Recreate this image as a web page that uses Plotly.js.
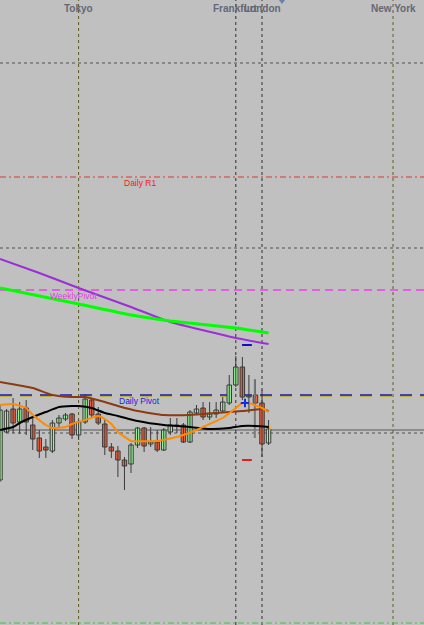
<!DOCTYPE html>
<html><head><meta charset="utf-8">
<script src="https://cdn.plot.ly/plotly-3.0.1.min.js"></script>
<style>html,body{margin:0;padding:0;background:#c0c0c0;overflow:hidden}#chart{width:424px;height:625px}</style>
</head><body><div id="chart"></div>
<script>
// ---- data (price units) ----
const barIndex = [0,1,2,3,4,5,6,7,8,9,10,11,12,13,14,15,16,17,18,19,20,21,22,23,24,25,26,27,28,29,30,31,32,33,34,35,36,37,38,39,40,41];
const openP  = [145,193,216,203,217,200,187,178,174,202,206,211,190,203,225,211,201,178,174,165,161,180,197,181,183,175,193,199,200,183,212,217,208,211,214,222,240,258,228,230,222,182];
const highP  = [220,216,227,223,225,208,195,186,205,210,212,212,205,231,227,218,205,182,179,168,182,198,198,198,195,197,207,207,202,215,220,223,223,223,228,250,269,268,250,245,235,205];
const lowP   = [143,192,192,191,190,175,167,167,172,198,204,186,185,201,207,200,170,167,148,135,152,177,173,178,173,174,190,192,182,182,210,205,205,207,212,220,238,225,212,220,168,180];
const closeP = [215,214,202,216,203,186,174,175,202,207,210,190,203,226,210,202,178,174,165,159,180,197,179,183,175,195,200,200,183,213,216,208,211,215,223,240,258,228,229,222,181,196];

const purpleX = [0,6,12,20,26,36,41];
const purpleY = [366,352,337,318,303,287,281];
const limeX   = [0,12,20,26,36,41];
const limeY   = [337,321,310,304,297,292];
const brownX  = [0,5,8,11,13,16,18,21,25,29,33,37,40,41];
const brownY  = [243,237,230,228,228,223,219,214,210,210,212,214,216,214];
const blackX  = [0,2,3,5,7,9,11,12,14,16,18,21,25,29,32,35,37,39,41];
const blackY  = [195,198,202,208,213,218,219,219,217,212,209,204,200,198,196,197,199,199,198];
const orangeX = [0,2,4,5,7,8,10,11,13,15,16,17,18,20,24,27,30,32,34,36,37,38,40,41];
const orangeY = [220,221,217,210,200,197,198,201,205,209,206,201,193,184,184,188,195,201,207,217,222,222,217,213];

const levelNames  = ['Daily R1','WeeklyPivot','Daily Pivot'];
const levelValues = [448, 335, 230];
const levelLabelBar = [18.6, 7.3, 17.9];
const lowerLevel = 2;
const bidLevel = 195;
const gridLevels = [562, 377, 192];

const sessionNames = ['Tokyo','Frankfurt','London','New York'];
const sessionBars  = [12, 36, 40, 60];

const markHighX = [37.7], markHighY = [280];
const markLowX  = [37.7], markLowY  = [165];
const crossX = [37.4], crossY = [222];
const tickBarX = [38.9, 38.9], tickBarY = [246, 187];
const smallTickX = [41.2, 41.2], smallTickY = [199, 195];
const topArrowX = [43.05], topArrowY = [626];

// ---- derived candle geometry ----
const wickX = [], wickY = [];
barIndex.forEach((b,i) => { wickX.push(b,b,null); wickY.push(highP[i],lowP[i],null); });
const bodyBase = openP.map((o,i) => Math.min(o, closeP[i]));
const bodySize = openP.map((o,i) => Math.max(Math.abs(closeP[i]-o), 0.8));
const bodyColor = openP.map((o,i) => closeP[i] >= o ? '#98f098' : '#f0623e');

// ---- traces ----
const traces = [
  {type:'scatter', mode:'lines', x:wickX, y:wickY, line:{color:'#3a3a3a',width:1}, connectgaps:false, hoverinfo:'skip'},
  {type:'bar', x:barIndex, y:bodySize, base:bodyBase, width:0.68,
   marker:{color:bodyColor, line:{color:'#3a3a3a',width:1}}, hoverinfo:'skip'},
  {type:'scatter', mode:'lines', x:tickBarX, y:tickBarY, line:{color:'#7a7a7a',width:2}, hoverinfo:'skip'},
  {type:'scatter', mode:'lines', x:purpleX, y:purpleY, line:{color:'#9a2fd6',width:2,shape:'spline',smoothing:0.4}, hoverinfo:'skip'},
  {type:'scatter', mode:'lines', x:limeX, y:limeY, line:{color:'#00ff00',width:3,shape:'spline',smoothing:0.4}, hoverinfo:'skip'},
  {type:'scatter', mode:'lines', x:brownX, y:brownY, line:{color:'#8b3a12',width:2,shape:'spline',smoothing:0.4}, hoverinfo:'skip'},
  {type:'scatter', mode:'lines', x:blackX, y:blackY, line:{color:'#000000',width:2,shape:'spline',smoothing:0.4}, hoverinfo:'skip'},
  {type:'scatter', mode:'lines', x:orangeX, y:orangeY, line:{color:'#ff8c00',width:2,shape:'spline',smoothing:0.3}, hoverinfo:'skip'},
  {type:'scatter', mode:'markers', x:markHighX, y:markHighY, marker:{symbol:'line-ew',size:7,line:{color:'#1010c8',width:2}}, hoverinfo:'skip'},
  {type:'scatter', mode:'markers', x:markLowX, y:markLowY, marker:{symbol:'line-ew',size:7,line:{color:'#e02020',width:2}}, hoverinfo:'skip'},
  {type:'scatter', mode:'markers', x:crossX, y:crossY, marker:{symbol:'cross-thin',size:6,line:{color:'#1030e0',width:2}}, hoverinfo:'skip'},
  {type:'scatter', mode:'lines', x:smallTickX, y:smallTickY, line:{color:'#ffb000',width:1.5}, hoverinfo:'skip'},
  {type:'scatter', mode:'markers', x:topArrowX, y:topArrowY, marker:{symbol:'triangle-down',size:10,color:'#6a82aa'}, hoverinfo:'skip', cliponaxis:true}
];

// ---- shapes ----
const shapes = [];
gridLevels.forEach(v => shapes.push({type:'line', xref:'paper', x0:0, x1:1, yref:'y', y0:v, y1:v, layer:'below', line:{color:'#505050',width:1,dash:'3px,3px'}}));
shapes.push({type:'line', xref:'paper', x0:0, x1:1, yref:'y', y0:bidLevel, y1:bidLevel, layer:'below', line:{color:'#8c8c8c',width:2}});
sessionBars.forEach((b,i) => shapes.push({type:'line', xref:'x', x0:b, x1:b, yref:'paper', y0:0, y1:1, layer:'below',
  line:{color:(i===0||i===3)?'#5c5c22':'#303030', width:1, dash:'3px,3px'}}));
shapes.push({type:'line', xref:'paper', x0:0, x1:1, yref:'y', y0:levelValues[0], y1:levelValues[0], layer:'below', line:{color:'#e03434',width:1,dash:'6px,3px,2px,3px'}});
shapes.push({type:'line', xref:'paper', x0:0, x1:1, yref:'y', y0:levelValues[1], y1:levelValues[1], layer:'below', line:{color:'#e060e0',width:2,dash:'8px,5px'}});
shapes.push({type:'line', xref:'paper', x0:0, x1:1, yref:'y', y0:levelValues[2]-1.2, y1:levelValues[2]-1.2, layer:'below', line:{color:'#b8a800',width:1,dash:'12px,8px'}});
shapes.push({type:'line', xref:'paper', x0:0, x1:1, yref:'y', y0:levelValues[2], y1:levelValues[2], layer:'below', line:{color:'#1a1ab0',width:1.5,dash:'12px,8px'}});
shapes.push({type:'line', xref:'paper', x0:0, x1:1, yref:'y', y0:lowerLevel, y1:lowerLevel, layer:'below', line:{color:'#40c040',width:1,dash:'6px,3px,2px,3px'}});

// ---- annotations ----
const levelColors = ['#ee2020','#e040e0','#2020e0'];
const annotations = levelNames.map((n,i) => ({text:n, x:levelLabelBar[i], y:levelValues[i], xref:'x', yref:'y', xanchor:'left', yanchor:'middle', yshift:-6, showarrow:false,
  font:{family:'Liberation Sans, Arial, sans-serif', size:8.5, color:levelColors[i]}}));
sessionNames.forEach((n,i) => annotations.push({text:'<b>'+n+'</b>', x:sessionBars[i], y:1, xref:'x', yref:'paper', xanchor:'center', yanchor:'middle', yshift:-8, showarrow:false,
  font:{family:'Liberation Sans, Arial, sans-serif', size:10, color:'#646874'}}));

const layout = {
  width:424, height:625, margin:{l:0,r:0,t:0,b:0},
  paper_bgcolor:'#c0c0c0', plot_bgcolor:'#c0c0c0', showlegend:false,
  xaxis:{range:[0,64.73], visible:false, fixedrange:true},
  yaxis:{range:[0,625], visible:false, fixedrange:true},
  barmode:'overlay',
  shapes:shapes, annotations:annotations
};
Plotly.newPlot('chart', traces, layout, {staticPlot:true, displayModeBar:false});
</script></body></html>
